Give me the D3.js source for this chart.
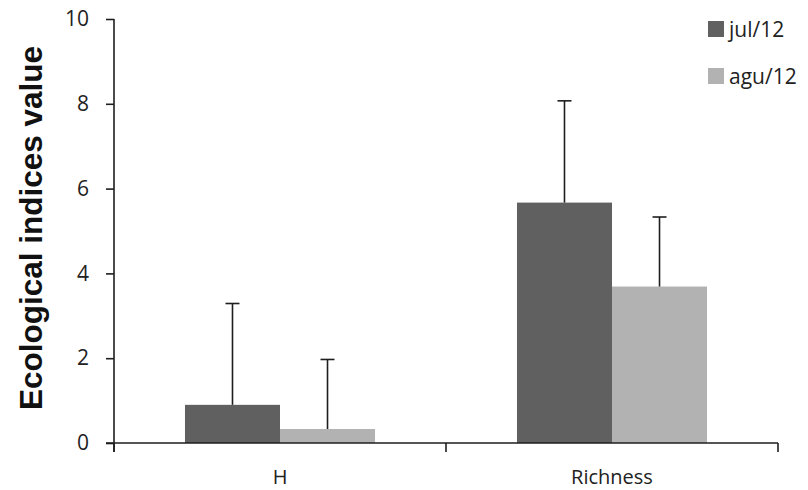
<!DOCTYPE html>
<html>
<head>
<meta charset="utf-8">
<script src="https://cdn.jsdelivr.net/npm/d3@7"></script>
<style>
  body { margin: 0; background: #fff; }
  svg { display: block; }
</style>
</head>
<body>
<svg id="chart" width="808" height="490"></svg>
<script>
// Ecological indices per sampling month, mean and standard deviation
const categories = ["H", "Richness"];
const seriesNames = ["jul/12", "agu/12"];
const julValues = [0.9, 5.67];
const aguValues = [0.33, 3.69];
const julErrors = [2.39, 2.4];
const aguErrors = [1.64, 1.64];
const yTicks = [0, 2, 4, 6, 8, 10];

const colors = ["#606060", "#b2b2b2"];
const series = [
  { name: seriesNames[0], values: julValues, errors: julErrors, color: colors[0] },
  { name: seriesNames[1], values: aguValues, errors: aguErrors, color: colors[1] }
];

const svg = d3.select("#chart");
const plotLeft = 114, plotRight = 778, plotTop = 19, plotBase = 443;

const x = d3.scaleBand().domain(categories).range([plotLeft, plotRight]).paddingInner(0).paddingOuter(0);
const x1 = d3.scaleBand().domain(seriesNames).range([0, x.bandwidth()]).paddingInner(0).paddingOuter(0.747);
const y = d3.scaleLinear().domain([0, 10]).range([plotBase, plotTop]);

const font = "'Open Sans', 'DejaVu Sans', sans-serif";
const inkColor = "#1e1e1e";

// bars
const groups = svg.append("g").selectAll("g")
  .data(categories)
  .join("g")
  .attr("transform", d => `translate(${x(d)},0)`);

series.forEach(s => {
  const cx = x1(s.name) + x1.bandwidth() / 2;
  groups.append("rect")
    .attr("x", x1(s.name))
    .attr("width", x1.bandwidth())
    .attr("y", (d, i) => y(s.values[i]))
    .attr("height", (d, i) => y(0) - y(s.values[i]))
    .attr("fill", s.color);

  // upper error bars with caps
  groups.append("line")
    .attr("x1", cx).attr("x2", cx)
    .attr("y1", (d, i) => y(s.values[i]))
    .attr("y2", (d, i) => y(s.values[i] + s.errors[i]))
    .attr("stroke", inkColor).attr("stroke-width", 1.6);
  groups.append("line")
    .attr("x1", cx - 7).attr("x2", cx + 7)
    .attr("y1", (d, i) => y(s.values[i] + s.errors[i]))
    .attr("y2", (d, i) => y(s.values[i] + s.errors[i]))
    .attr("stroke", inkColor).attr("stroke-width", 1.6);
});

// y axis
const yAxis = svg.append("g")
  .attr("transform", `translate(${plotLeft},0)`)
  .call(d3.axisLeft(y).tickValues(yTicks).tickSize(8).tickPadding(17).tickFormat(d3.format("d")));
yAxis.selectAll("path, line").attr("stroke", inkColor).attr("stroke-width", 1.6);
yAxis.select(".domain").attr("d", `M0,${y(10)}V${y(0) + 9}`);
yAxis.selectAll("text").attr("font-family", font).attr("font-size", 21).attr("fill", "#222");

// x axis
const xAxis = svg.append("g")
  .attr("transform", `translate(0,${y(0)})`);
xAxis.append("line").attr("x1", plotLeft - 8).attr("x2", plotRight).attr("y1", 0).attr("y2", 0)
  .attr("stroke", inkColor).attr("stroke-width", 1.6);
const bounds = categories.map(c => x(c)).concat([x(categories[categories.length - 1]) + x.bandwidth()]);
xAxis.selectAll("line.sep").data(bounds).join("line").attr("class", "sep")
  .attr("x1", d => d).attr("x2", d => d).attr("y1", 0).attr("y2", 9)
  .attr("stroke", inkColor).attr("stroke-width", 1.6);
xAxis.selectAll("text").data(categories).join("text")
  .attr("x", d => x(d) + x.bandwidth() / 2)
  .attr("y", 41)
  .attr("text-anchor", "middle")
  .attr("font-family", font).attr("font-size", 20).attr("fill", "#222")
  .text(d => d);

// y axis title
svg.append("text")
  .attr("transform", `translate(42,228) rotate(-90)`)
  .attr("text-anchor", "middle")
  .attr("font-family", "'Liberation Sans', Arial, sans-serif")
  .attr("font-weight", "bold")
  .attr("font-size", 31.5)
  .attr("fill", "#111")
  .text("Ecological indices value");

// legend
const legend = svg.append("g").attr("transform", "translate(708,21)");
series.forEach((s, i) => {
  const g = legend.append("g").attr("transform", `translate(0,${i * 47})`);
  g.append("rect").attr("width", 16).attr("height", 16).attr("fill", s.color);
  g.append("text").attr("x", 21).attr("y", 16)
    .attr("font-family", font).attr("font-size", 21).attr("fill", "#222")
    .text(s.name);
});
</script>
</body>
</html>
